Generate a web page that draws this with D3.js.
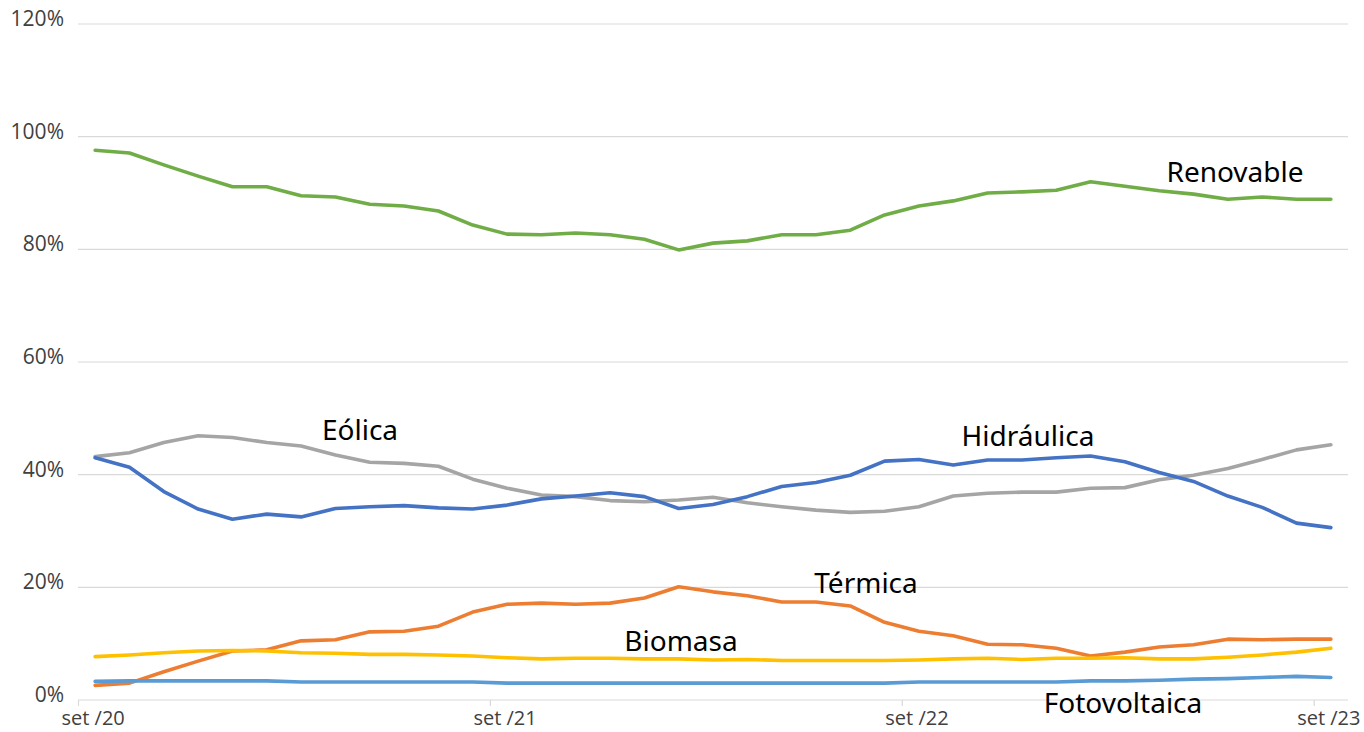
<!DOCTYPE html>
<html><head><meta charset="utf-8">
<script src="https://cdn.jsdelivr.net/npm/d3@7"></script>
<style>body{margin:0;background:#fff}svg{display:block}</style>
</head><body>
<svg id="c" width="1364" height="732"></svg>
<script>
const months = ["set /20","out /20","nov /20","dez /20","jan /21","fev /21","mar /21","abr /21","mai /21","jun /21","jul /21","ago /21",
"set /21","out /21","nov /21","dez /21","jan /22","fev /22","mar /22","abr /22","mai /22","jun /22","jul /22","ago /22",
"set /22","out /22","nov /22","dez /22","jan /23","fev /23","mar /23","abr /23","mai /23","jun /23","jul /23","ago /23","set /23"];
const xTickLabels = ["set /20","set /21","set /22","set /23"];
const yTicks = [0,0.2,0.4,0.6,0.8,1.0,1.2];

const renovable = [97.6,97.1,95.0,93.0,91.1,91.1,89.5,89.3,88.0,87.7,86.8,84.3,82.7,82.6,82.9,82.6,81.8,79.9,81.1,81.5,82.6,82.6,83.4,86.1,87.7,88.6,90.0,90.2,90.5,92.0,91.2,90.4,89.8,88.9,89.3,88.9,88.9];
const eolica = [43.2,43.9,45.7,46.9,46.6,45.7,45.1,43.5,42.2,42.0,41.5,39.2,37.6,36.4,36.1,35.4,35.2,35.5,36.0,35.0,34.3,33.7,33.3,33.5,34.3,36.2,36.7,36.9,36.9,37.6,37.7,39.1,39.9,41.1,42.7,44.4,45.3];
const hidraulica = [43.0,41.3,37.0,33.9,32.1,33.0,32.5,34.0,34.3,34.5,34.1,33.9,34.6,35.7,36.2,36.8,36.1,34.0,34.7,36.1,37.9,38.6,39.9,42.4,42.7,41.7,42.6,42.6,43.0,43.3,42.3,40.4,38.8,36.2,34.2,31.4,30.6];
const termica = [2.6,3.0,5.0,6.9,8.7,8.9,10.5,10.7,12.1,12.2,13.1,15.6,17.0,17.2,17.0,17.2,18.1,20.1,19.2,18.5,17.4,17.4,16.7,13.8,12.2,11.4,9.9,9.8,9.2,7.8,8.5,9.4,9.8,10.8,10.7,10.8,10.8];
const biomasa = [7.7,8.0,8.4,8.7,8.8,8.7,8.4,8.3,8.1,8.1,8.0,7.8,7.5,7.3,7.4,7.4,7.3,7.3,7.1,7.2,7.0,7.0,7.0,7.0,7.1,7.3,7.4,7.2,7.4,7.4,7.5,7.3,7.3,7.6,8.0,8.5,9.2];
const fotovoltaica = [3.3,3.4,3.4,3.4,3.4,3.4,3.2,3.2,3.2,3.2,3.2,3.2,3.0,3.0,3.0,3.0,3.0,3.0,3.0,3.0,3.0,3.0,3.0,3.0,3.2,3.2,3.2,3.2,3.2,3.4,3.4,3.5,3.7,3.8,4.0,4.2,4.0];

const seriesNames = ["Renovable","Eólica","Hidráulica","Térmica","Biomasa","Fotovoltaica"];
const seriesValues = [renovable,eolica,hidraulica,termica,biomasa,fotovoltaica];
const seriesColors = ["#70AD47","#A5A5A5","#4472C4","#ED7D31","#FFC000","#5B9BD5"];
const labelPos = [[1235,172],[360,430],[1028,436],[866,583],[681,641],[1123,703]];

const svg = d3.select("#c");
const x = d3.scaleBand().domain(months).range([78,1348]).padding(0);
const cx = d => x(d) + x.bandwidth()/2;
const y = d3.scaleLinear().domain([0,1.2]).range([700,24]);

// gridlines
svg.append("g").selectAll("line").data(yTicks).join("line")
  .attr("x1",78).attr("x2",1348)
  .attr("y1",d=>y(d)).attr("y2",d=>y(d))
  .attr("stroke","#d9d9d9").attr("stroke-width",1.2);

// y labels
svg.append("g").selectAll("text").data(yTicks).join("text")
  .attr("x",64).attr("y",d=>y(d)+2)
  .attr("text-anchor","end")
  .attr("font-family","'Open Sans', sans-serif").attr("font-size",21)
  .attr("fill","#404040")
  .text(d3.format(".0%"));

// x ticks + labels
svg.append("g").selectAll("line").data(xTickLabels).join("line")
  .attr("x1",d=>x(d)+0.5).attr("x2",d=>x(d)+0.5)
  .attr("y1",700).attr("y2",706)
  .attr("stroke","#d9d9d9").attr("stroke-width",1.2);
svg.append("g").selectAll("text").data(xTickLabels).join("text")
  .attr("x",d=>cx(d)-2).attr("y",725)
  .attr("text-anchor","middle")
  .attr("font-family","'Open Sans', sans-serif").attr("font-size",20)
  .attr("fill","#404040")
  .text(d=>d);

// lines
const line = d3.line().x((d,i)=>cx(months[i])).y(d=>y(d/100));
svg.append("g").selectAll("path").data(seriesValues).join("path")
  .attr("d",d=>line(d))
  .attr("fill","none")
  .attr("stroke",(d,i)=>seriesColors[i])
  .attr("stroke-width",3.6)
  .attr("stroke-linejoin","round").attr("stroke-linecap","round");

// labels
svg.append("g").selectAll("text").data(seriesNames).join("text")
  .attr("x",(d,i)=>labelPos[i][0]).attr("y",(d,i)=>labelPos[i][1])
  .attr("dy","0.35em")
  .attr("text-anchor","middle")
  .attr("font-family","'Noto Sans', sans-serif").attr("font-size",28)
  .attr("fill","#000")
  .text(d=>d);
</script>
</body></html>
